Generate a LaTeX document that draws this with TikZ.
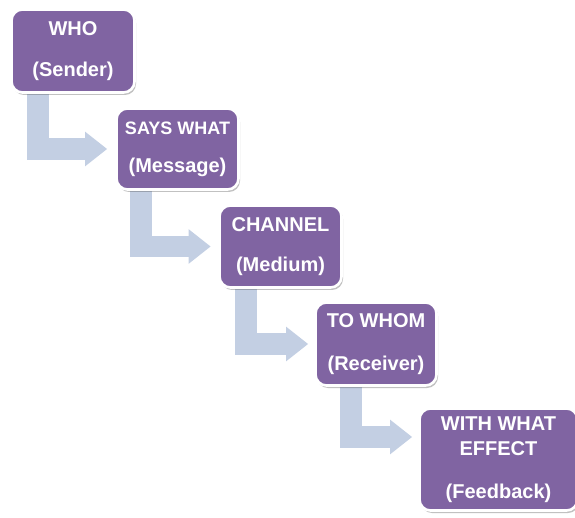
\documentclass[tikz,border=0pt]{standalone}
\usepackage{fontspec}
\setmainfont{Liberation Sans}
\usetikzlibrary{shadows,arrows.meta,backgrounds}
\definecolor{boxpurple}{HTML}{8064A2}
\definecolor{flowblue}{HTML}{C3CFE3}
\tikzset{
  stagebox/.style={draw=white, line width=2.6pt, fill=boxpurple, rounded corners=11pt,
    text=white, align=center, inner sep=0pt,
    font=\fontsize{20}{22}\selectfont\bfseries,
    drop shadow={shadow xshift=1.5pt, shadow yshift=-2.5pt, opacity=0.35, fill=black!70}},
  flowarrow/.style={draw=flowblue, line width=21.5pt,
    -{Triangle[length=22pt, width=33pt, fill=flowblue]}}
}
\begin{document}
\begin{tikzpicture}[x=1pt,y=1pt]
\useasboundingbox (0,0) rectangle (575,517);
\node[stagebox, minimum width=123pt, minimum height=83pt] (who) at (73,466)
  {WHO\\[19pt](Sender)};
\node[stagebox, minimum width=122pt, minimum height=81pt] (says) at (177.5,368)
  {{\fontsize{18}{20}\selectfont SAYS WHAT}\\[16pt](Message)};
\node[stagebox, minimum width=122pt, minimum height=82pt] (channel) at (280.5,270.5)
  {CHANNEL\\[18pt](Medium)};
\node[stagebox, minimum width=121pt, minimum height=83pt] (whom) at (376,173)
  {TO WHOM\\[21pt](Receiver)};
\node[stagebox, minimum width=158pt, minimum height=102pt] (effect) at (498.5,57.5)
  {WITH WHAT\\[3pt]EFFECT\\[21pt](Feedback)};
\begin{pgfonlayer}{background}
\draw[flowarrow] ([xshift=-35pt]who.south) |- ([xshift=-8pt]says.west);
\draw[flowarrow] ([xshift=-36.5pt]says.south) |- ([xshift=-7.5pt]channel.west);
\draw[flowarrow] ([xshift=-34.5pt]channel.south) |- ([xshift=-6pt]whom.west);
\draw[flowarrow] ([xshift=-25pt]whom.south) |- ([xshift=-6pt,yshift=22.5pt]effect.west);
\end{pgfonlayer}
\end{tikzpicture}
\end{document}
